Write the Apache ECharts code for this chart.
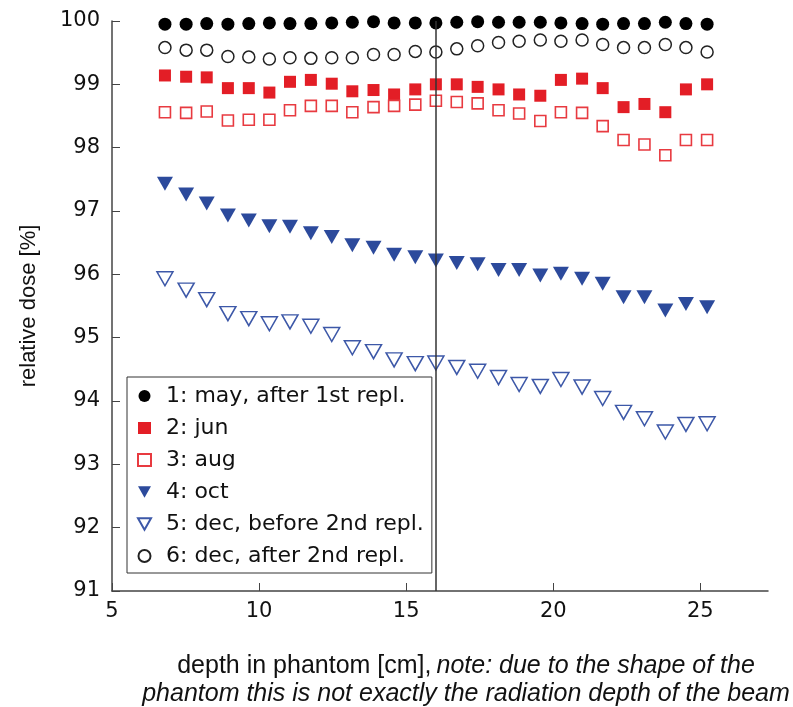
<!DOCTYPE html>
<html>
<head>
<meta charset="utf-8">
<title>relative dose</title>
<script src="https://cdn.jsdelivr.net/npm/echarts@6.0.0/dist/echarts.min.js"></script>
<style>
    html, body { margin: 0; padding: 0; background: #fff; }
    #chart { width: 793px; height: 707px; }
</style>
</head>
<body>
<div id="chart"></div>
<script>
// depth in phantom [cm]
const depth = [6.80, 7.52, 8.22, 8.94, 9.65, 10.35, 11.05, 11.76, 12.47, 13.17, 13.89, 14.59, 15.31, 16.01,
    16.72, 17.43, 18.14, 18.84, 19.56, 20.26, 20.98, 21.68, 22.39, 23.10, 23.81, 24.51, 25.23];

const may = [99.95, 99.95, 99.96, 99.95, 99.96, 99.97, 99.96, 99.96, 99.97, 99.98, 99.99, 99.97, 99.97, 99.97,
    99.98, 99.99, 99.98, 99.98, 99.98, 99.97, 99.96, 99.95, 99.96, 99.96, 99.98, 99.96, 99.95];
const jun = [99.14, 99.12, 99.11, 98.94, 98.94, 98.87, 99.04, 99.07, 99.01, 98.89, 98.91, 98.84, 98.92, 99.00,
    99.00, 98.96, 98.92, 98.84, 98.82, 99.07, 99.09, 98.94, 98.64, 98.69, 98.56, 98.92, 99.00];
const aug = [98.56, 98.55, 98.57, 98.43, 98.44, 98.44, 98.59, 98.66, 98.66, 98.56, 98.64, 98.66, 98.68, 98.74,
    98.72, 98.70, 98.59, 98.54, 98.42, 98.56, 98.55, 98.34, 98.12, 98.05, 97.88, 98.12, 98.12];
const oct = [97.43, 97.26, 97.12, 96.93, 96.85, 96.76, 96.75, 96.65, 96.59, 96.46, 96.42, 96.31, 96.27, 96.22,
    96.18, 96.16, 96.07, 96.07, 95.98, 96.01, 95.93, 95.85, 95.64, 95.64, 95.43, 95.53, 95.48];
const decBefore = [95.93, 95.75, 95.60, 95.38, 95.30, 95.22, 95.25, 95.18, 95.05, 94.84, 94.78, 94.65, 94.59, 94.60,
    94.53, 94.47, 94.37, 94.26, 94.23, 94.34, 94.22, 94.04, 93.82, 93.72, 93.51, 93.63, 93.64];
const decAfter = [99.58, 99.54, 99.54, 99.44, 99.43, 99.40, 99.42, 99.41, 99.42, 99.42, 99.47, 99.47, 99.52, 99.51,
    99.56, 99.61, 99.66, 99.68, 99.70, 99.68, 99.70, 99.63, 99.58, 99.58, 99.63, 99.58, 99.51];

const names = ['1: may, after 1st repl.', '2: jun', '3: aug', '4: oct', '5: dec, before 2nd repl.', '6: dec, after 2nd repl.'];
const xTicks = [5, 10, 15, 20, 25];
const markDepth = 16;

const pairs = (vals) => depth.map((d, i) => [d, vals[i]]);

const chart = echarts.init(document.getElementById('chart'));
const tickFont = {fontFamily: 'DejaVu Sans', fontSize: 21, color: '#111'};
const downTri = 'path://M0,0 L16,0 L8,14 Z'; // legend icon, pointing down

const option = {
    animation: false,
    title: {
        left: 461,
        top: 647,
        textAlign: 'center',
        text: '{n|depth in phantom [cm],} {i|note: due to the shape of the}\n{i|phantom this is not exactly the radiation depth of the beam}',
        textStyle: {
            fontWeight: 'normal',
            rich: {
                n: {fontFamily: 'Liberation Sans', fontSize: 25, lineHeight: 28, fontWeight: 'normal', color: '#111'},
                i: {fontFamily: 'Liberation Sans', fontSize: 25, lineHeight: 28, fontWeight: 'normal', fontStyle: 'italic', color: '#111'},
            },
        },
    },
    grid: {left: 112, right: 25, top: 21, bottom: 116},
    legend: {
        orient: 'vertical',
        left: 127,
        top: 377,
        itemWidth: 13,
        itemHeight: 12,
        itemGap: 10,
        padding: [8, 8, 6, 10],
        borderColor: '#333',
        borderWidth: 1,
        textStyle: {fontFamily: 'DejaVu Sans', fontSize: 22, lineHeight: 22, color: '#111', padding: [0, 0, 0, 10]},
        data: [
            {name: names[0]},
            {name: names[1]},
            {name: names[2]},
            {name: names[3], icon: downTri},
            {name: names[4], icon: downTri},
            {name: names[5]},
        ],
    },
    xAxis: {
        type: 'value',
        min: 5,
        max: 27.3,
        interval: 5,
        splitLine: {show: false},
        axisLine: {lineStyle: {color: '#444', width: 1.5}},
        axisTick: {inside: true, length: 8, lineStyle: {color: '#444'}, customValues: xTicks},
        axisLabel: Object.assign({margin: 10, customValues: xTicks}, tickFont),
    },
    yAxis: {
        type: 'value',
        min: 91,
        max: 100,
        interval: 1,
        name: 'relative dose [%]',
        nameLocation: 'middle',
        nameRotate: 90,
        nameGap: 72,
        nameTextStyle: {fontFamily: 'Liberation Sans', fontSize: 22, color: '#111'},
        splitLine: {show: false},
        axisLine: {show: true, lineStyle: {color: '#444', width: 1.5}},
        axisTick: {show: true, inside: true, length: 8, lineStyle: {color: '#444'}},
        axisLabel: Object.assign({margin: 12}, tickFont),
    },
    series: [
        {
            name: names[0], type: 'scatter', data: pairs(may),
            symbol: 'circle', symbolSize: 13,
            itemStyle: {color: '#000', opacity: 1},
            markLine: {
                silent: true, symbol: 'none', label: {show: false},
                lineStyle: {color: '#333', type: 'solid', width: 1.5},
                data: [{xAxis: markDepth}],
            },
        },
        {
            name: names[1], type: 'scatter', data: pairs(jun),
            symbol: 'rect', symbolSize: 12,
            itemStyle: {color: '#e31e26', opacity: 1},
        },
        {
            name: names[2], type: 'scatter', data: pairs(aug),
            symbol: 'rect', symbolSize: 11,
            itemStyle: {color: '#fff', borderColor: '#e83a40', borderWidth: 1.6, opacity: 1},
        },
        {
            name: names[3], type: 'scatter', data: pairs(oct),
            symbol: 'triangle', symbolSize: [16, 14], symbolRotate: 180,
            itemStyle: {color: '#2c4a9c', opacity: 1},
        },
        {
            name: names[4], type: 'scatter', data: pairs(decBefore),
            symbol: 'triangle', symbolSize: [16, 14], symbolRotate: 180,
            itemStyle: {color: '#fff', borderColor: '#3d58a8', borderWidth: 1.5, opacity: 1},
        },
        {
            name: names[5], type: 'scatter', data: pairs(decAfter),
            symbol: 'circle', symbolSize: 12,
            itemStyle: {color: '#fff', borderColor: '#222', borderWidth: 1.5, opacity: 1},
        },
    ],
};

chart.setOption(option);
</script>
</body>
</html>
